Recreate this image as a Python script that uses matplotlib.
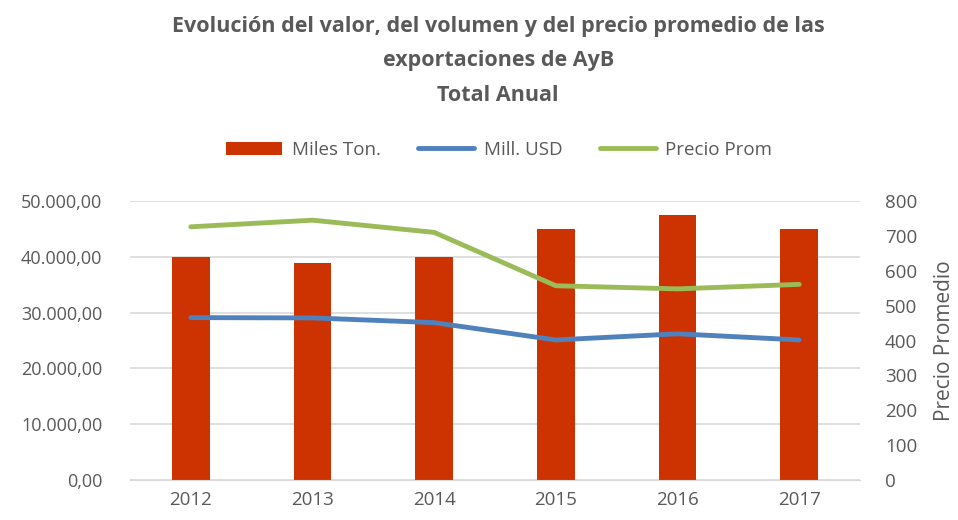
import matplotlib
matplotlib.use("Agg")
import matplotlib.pyplot as plt
import matplotlib.ticker as mticker

years = ["2012", "2013", "2014", "2015", "2016", "2017"]
miles_ton = [40000, 38900, 40000, 45000, 47500, 45000]
mill_usd = [29100, 29050, 28200, 25100, 26200, 25100]
precio_prom = [726, 745, 710, 557, 548, 561]

plt.rcParams['font.family'] = ["Open Sans", 'DejaVu Sans']

txt = "#595959"
fig = plt.figure(figsize=(9.58, 5.2), dpi=100)
ax = fig.add_axes([130/958, 1-480/520, 730/958, 279/520])
ax2 = ax.twinx()

x = list(range(len(years)))
bars = ax.bar(x, miles_ton, width=0.31, color="#CC3300", label="Miles Ton.", zorder=2)
l1, = ax.plot(x, mill_usd, color="#4F81BD", lw=3.5, label="Mill. USD", zorder=3, solid_capstyle="round")
l2, = ax2.plot(x, precio_prom, color="#9BBB59", lw=3.5, label="Precio Prom", zorder=3, solid_capstyle="round")

ax.set_xlim(-0.5, 5.5)
ax.set_ylim(0, 50000)
ax2.set_ylim(0, 800)
ax.set_yticks(range(0, 50001, 10000))
ax2.set_yticks(range(0, 801, 100))
ax.yaxis.set_major_formatter(mticker.FuncFormatter(
    lambda v, p: f"{v:,.2f}".replace(",", "X").replace(".", ",").replace("X", ".")))
ax.set_xticks(x)
ax.set_xticklabels(years)

ax.grid(axis="y", color="#D9D9D9", lw=1.2, zorder=0)
ax.set_axisbelow(True)
for a in (ax, ax2):
    for s in a.spines.values():
        s.set_visible(False)
    a.tick_params(length=0, labelsize=13.5, colors=txt)
ax.spines["bottom"].set_visible(True)
ax.spines["bottom"].set_color("#D9D9D9")
ax.tick_params(axis="y", pad=20, labelsize=13)
ax.tick_params(axis="x", pad=8)
ax2.tick_params(axis="y", pad=18)
ax2.set_ylabel("Precio Promedio", fontsize=15, color=txt, labelpad=12)

fig.text(0.52, 0.97, "Evolución del valor, del volumen y del precio promedio de las\nexportaciones de AyB\nTotal Anual",
         ha="center", va="top", fontsize=15.5, fontweight="bold", color=txt, linespacing=1.85)

leg = fig.legend([bars, l1, l2], ["Miles Ton.", "Mill. USD", "Precio Prom"],
                 loc="center", bbox_to_anchor=(0.521, 0.712), ncol=3, frameon=False,
                 fontsize=13.5, handlelength=3.0, columnspacing=2.0, handletextpad=0.5)
for t in leg.get_texts():
    t.set_color(txt)

fig.savefig("out.png", dpi=100)
